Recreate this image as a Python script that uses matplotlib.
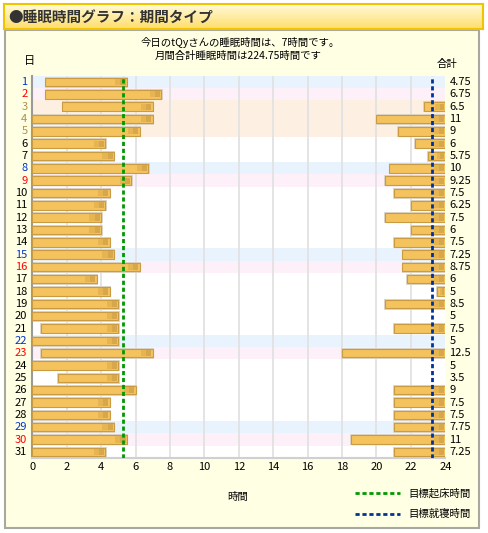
import numpy as np
import matplotlib
matplotlib.use("Agg")
import matplotlib.pyplot as plt
from matplotlib.patches import Rectangle
from matplotlib.lines import Line2D
from matplotlib.transforms import blended_transform_factory

plt.rcParams['font.family'] = ['Noto Sans CJK JP', 'DejaVu Sans']

W, H = 489, 533

days = list(range(1, 32))
# sleep after midnight: start / wake-up hour
morning_start = [0.75, 0.75, 1.75, 0, 0, 0, 0, 0, 0, 0,
                 0, 0, 0, 0, 0, 0, 0, 0, 0, 0,
                 0.5, 0, 0.5, 0, 1.5, 0, 0, 0, 0, 0, 0]
morning_end = [5.5, 7.5, 7.0, 7.0, 6.25, 4.25, 4.75, 6.75, 5.75, 4.5,
               4.25, 4.0, 4.0, 4.5, 4.75, 6.25, 3.75, 4.5, 5.0, 5.0,
               5.0, 5.0, 7.0, 5.0, 5.0, 6.0, 4.5, 4.5, 4.75, 5.5, 4.25]
# bedtime before midnight (None = went to bed after midnight)
night_start = [None, None, 22.75, 20, 21.25, 22.25, 23, 20.75, 20.5, 21,
               22, 20.5, 22, 21, 21.5, 21.5, 21.75, 23.5, 20.5, None,
               21, None, 18, None, None, 21, 21, 21, 21, 18.5, 21]
totals = ["4.75", "6.75", "6.5", "11", "9", "6", "5.75", "10", "9.25", "7.5",
          "6.25", "7.5", "6", "7.5", "7.25", "8.75", "6", "5", "8.5", "5",
          "7.5", "5", "12.5", "5", "3.5", "9", "7.5", "7.5", "7.75", "11", "7.25"]
day_kind = ["sat", "sun", "hol", "hol", "hol", "wk", "wk", "sat", "sun", "wk",
            "wk", "wk", "wk", "wk", "sat", "sun", "wk", "wk", "wk", "wk",
            "wk", "sat", "sun", "wk", "wk", "wk", "wk", "wk", "sat", "sun", "wk"]
target_wake = 5.25
target_bed = 23.25
x_ticks = list(range(0, 25, 2))

label_colors = {"sat": "#0033cc", "sun": "#ff0000", "hol": "#b08f4a", "wk": "#000000"}
band_colors = {"sat": "#e8f3fd", "sun": "#fdf0f8", "hol": "#fdf0e3", "wk": None}


def fx(x):
    return x / W


def fy(y):
    return 1 - y / H


def draw_bar(ax, d, left, right):
    h = 0.7
    ax.barh(d + 0.03, right - left + 0.12, left=left - 0.04, height=h + 0.2,
            color="#ddd6c9", lw=0, zorder=2)
    ax.barh(d, right - left, left=left, height=h, color="#f4c35d",
            edgecolor="#c99b42", lw=0.8, zorder=3)
    # darker shading towards the end of the bar
    tip = min(0.6, (right - left) * 0.4)
    ax.barh(d, tip, left=right - tip - 0.08, height=h * 0.7, color="#e6b552", lw=0, zorder=4)
    ax.barh(d, tip / 2, left=right - tip / 2 - 0.08, height=h * 0.7, color="#d8a64b", lw=0, zorder=4)


fig = plt.figure(figsize=(W / 100, H / 100), dpi=100)
fig.patch.set_facecolor("white")

# panel
fig.add_artist(Rectangle((fx(5), fy(528)), fx(474), 498 / H, transform=fig.transFigure,
                         facecolor="#ffffe3", edgecolor="#a8a8a0", lw=1.5, zorder=-1))

# header with gradient
hax = fig.add_axes([fx(4), fy(29), fx(479), 25 / H])
grad = np.linspace(0, 1, 50).reshape(-1, 1)
top = np.array([1.0, 0.98, 0.86])
bot = np.array([1.0, 0.87, 0.42])
img = top + (bot - top) * grad[:, :, None]
hax.imshow(img, aspect="auto", extent=[0, 1, 0, 1])
hax.set_xlim(0, 1)
hax.set_ylim(0, 1)
hax.set_xticks([])
hax.set_yticks([])
for s in hax.spines.values():
    s.set_color("#f2c400")
    s.set_linewidth(1.5)
hax.text(0.008, 0.5, "●睡眠時間グラフ：期間タイプ", fontsize=10.5, fontweight="bold",
         color="#333333", va="center", ha="left")

# texts above chart
fig.text(fx(240), fy(42), "今日のtQyさんの睡眠時間は、7時間です。", fontsize=7.5, ha="center", va="center")
fig.text(fx(238), fy(56), "月間合計睡眠時間は224.75時間です", fontsize=7.5, ha="center", va="center")
fig.text(fx(30), fy(61), "日", fontsize=8, ha="center", va="center")
fig.text(fx(447), fy(64), "合計", fontsize=7.5, ha="center", va="center")

# main chart
ax = fig.add_axes([fx(32.3), fy(458), fx(413), (458 - 75.7) / H])
ax.set_facecolor("white")
ax.set_xlim(0, 24)
ax.set_ylim(31.5, 0.5)

for d, kind in zip(days, day_kind):
    if band_colors[kind]:
        ax.axhspan(d - 0.5, d + 0.5, color=band_colors[kind], lw=0, zorder=0)

for x in x_ticks[1:-1]:
    ax.axvline(x, color="#e2e2e2", lw=1.3, zorder=1)

for d, s, e, n in zip(days, morning_start, morning_end, night_start):
    draw_bar(ax, d, s, e)
    if n is not None:
        draw_bar(ax, d, n, 24)

ax.axvline(target_wake, color="#009900", lw=2, ls=(0, (1.5, 1)), zorder=5)
ax.axvline(target_bed, color="#003399", lw=2, ls=(0, (1.5, 1)), zorder=5)

trans = blended_transform_factory(ax.transAxes, ax.transData)
for d, kind, t in zip(days, day_kind, totals):
    ax.text(-0.012, d, str(d), transform=trans, ha="right", va="center",
            fontsize=8, color=label_colors[kind])
    ax.text(1.01, d, t, transform=trans, ha="left", va="center", fontsize=8)

ax.set_xticks(x_ticks)
ax.set_xticklabels([str(x) for x in x_ticks], fontsize=8)
ax.tick_params(axis="x", length=0, pad=3)
ax.set_yticks([])
ax.spines["top"].set_visible(False)
ax.spines["right"].set_visible(False)
ax.spines["left"].set_color("#9a9a9a")
ax.spines["left"].set_linewidth(1.5)
ax.spines["bottom"].set_color("#d0d0d0")
ax.spines["bottom"].set_linewidth(1.5)

# axis title and legend
fig.text(fx(238), fy(497), "時間", fontsize=7.5, ha="center", va="center")
fig.add_artist(Line2D([fx(355), fx(400)], [fy(493), fy(493)], transform=fig.transFigure,
                      color="#009900", lw=2, ls=(0, (1.5, 1))))
fig.text(fx(408), fy(493), "目標起床時間", fontsize=7.5, ha="left", va="center")
fig.add_artist(Line2D([fx(355), fx(400)], [fy(514), fy(514)], transform=fig.transFigure,
                      color="#003399", lw=2, ls=(0, (1.5, 1))))
fig.text(fx(408), fy(514), "目標就寝時間", fontsize=7.5, ha="left", va="center")

fig.savefig("out.png", dpi=100)
